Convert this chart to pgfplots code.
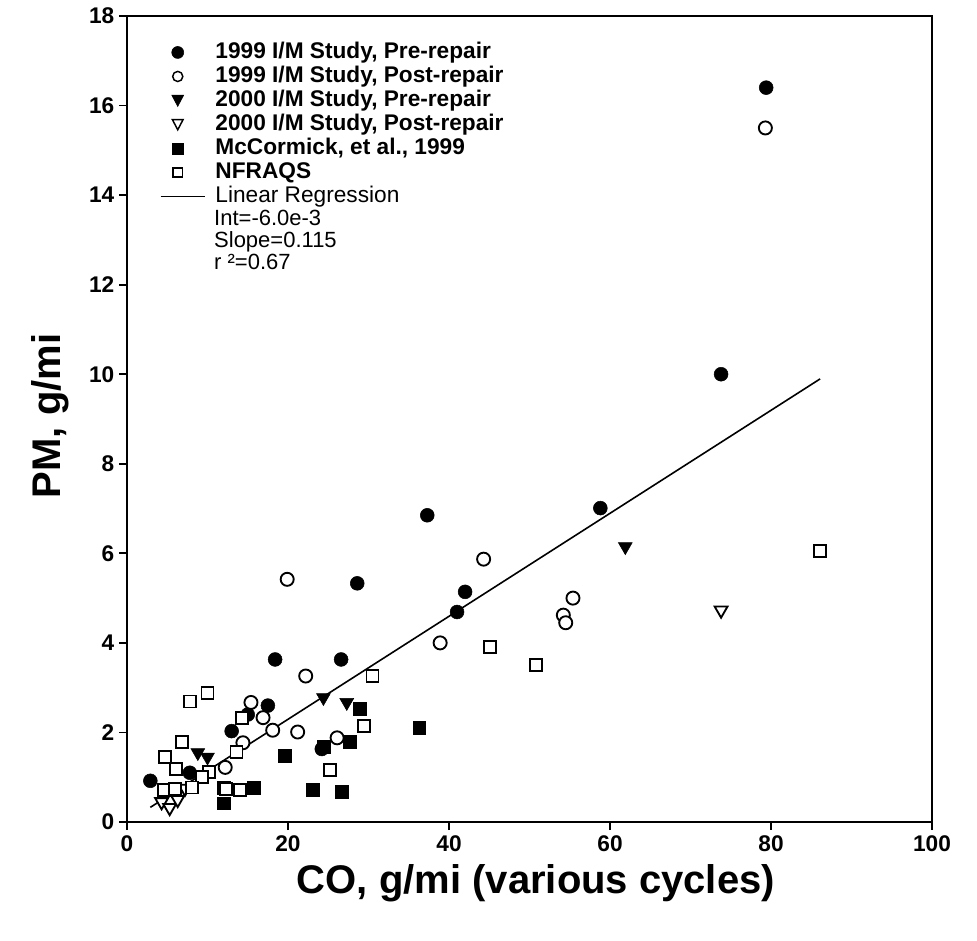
\documentclass[border=0pt]{standalone}
\usepackage{fontspec}
\setmainfont{Liberation Sans}
\usepackage{pgfplots}
\pgfplotsset{compat=1.18}
\begin{document}
\begin{tikzpicture}
\useasboundingbox (-95.25pt,-88.5pt) rectangle (637.5pt,616.5pt);
\begin{axis}[
  scale only axis, width=603.75pt, height=604.5pt,
  xmin=0, xmax=100, ymin=0, ymax=18,
  xtick={0,20,...,100}, ytick={0,2,...,18},
  axis line style={line width=1.6pt},
  major tick style={line width=1.4pt, black},
  major tick length=6pt,
  tick align=outside, xtick pos=lower, ytick pos=left,
  minor tick num=0,
  /pgf/number format/assume math mode=true,
  ticklabel style={font=\fontsize{17}{20}\selectfont\bfseries},
  xticklabel style={yshift=-1pt},
  xlabel={CO, g/mi (various cycles)},
  ylabel={PM, g/mi},
  label style={font=\fontsize{30}{34}\selectfont\bfseries},
  xlabel style={at={(rel axis cs:0.508,-0.0893)}, anchor=base},
  ylabel style={at={(rel axis cs:-0.082,0.504)}, anchor=base},
  clip=false,
  legend style={at={(rel axis cs:0.041,0.968)}, anchor=north west, draw=none, fill=none,
    inner sep=0pt, outer sep=0pt,
    font=\fontsize{17}{20}\selectfont\bfseries, row sep=2pt,
    nodes={inner sep=0pt, text height=12.5pt, text depth=3.5pt},
    /tikz/every odd column/.append style={column sep=7.5pt}},
  legend cell align=left,
]
% data series
\addplot[only marks, mark=*, mark size=5.2pt, black, forget plot] coordinates {
(79.4,16.4)(73.8,10.0)(58.8,7.01)(37.3,6.85)(28.6,5.33)(42.0,5.14)(41.0,4.69)(18.4,3.63)(26.6,3.63)(17.5,2.6)(15.0,2.4)(13.0,2.03)(24.2,1.63)(7.8,1.1)(2.9,0.92)};
\addplot[only marks, mark=*, mark size=4.9pt, black, mark options={fill=white, line width=1.4pt}, forget plot] coordinates {
(79.3,15.5)(44.3,5.87)(19.9,5.42)(55.4,5.0)(54.2,4.62)(54.5,4.45)(38.9,4.0)(22.2,3.26)(15.4,2.67)(16.9,2.33)(18.1,2.05)(21.2,2.01)(26.1,1.88)(14.4,1.77)(12.2,1.22)};
\addplot[only marks, mark=triangle*, mark size=6pt, black, mark options={rotate=180}, forget plot] coordinates {
(61.9,6.15)(24.4,2.78)(27.3,2.67)(8.8,1.55)(10.0,1.45)(5.8,0.72)};
\addplot[only marks, mark=triangle*, mark size=5.6pt, black, mark options={rotate=180, fill=white, line width=1.4pt}, forget plot] coordinates {
(73.8,4.73)(4.3,0.45)(5.3,0.32)(6.3,0.5)(7.2,0.75)};
\addplot[only marks, mark=square*, mark size=4.8pt, black, forget plot] coordinates {
(36.3,2.1)(28.9,2.53)(27.7,1.79)(24.4,1.68)(19.6,1.48)(23.1,0.72)(26.7,0.67)(15.7,0.77)(12.0,0.77)(12.0,0.42)};
\addplot[only marks, mark=square*, mark size=4.5pt, black, mark options={fill=white, line width=1.4pt}, forget plot] coordinates {
(86.1,6.05)(45.1,3.91)(50.8,3.51)(30.5,3.27)(29.4,2.14)(25.2,1.16)(7.8,2.69)(10.0,2.88)(6.8,1.79)(14.3,2.32)(13.6,1.57)(10.2,1.12)(9.3,1.0)(14.0,0.72)(12.3,0.74)(4.7,1.45)(6.1,1.18)(4.6,0.72)(8.1,0.77)(6.0,0.73)};
\addplot[black, line width=1.2pt, forget plot] coordinates {(2.9,0.3275)(86.1,9.8955)};
% legend
\addlegendimage{legend image code/.code={\fill[black] (12.75pt,0pt) circle (4.5pt); \path (0pt,-5pt) (33pt,5pt);}}
\addlegendentry{1999 I/M Study, Pre-repair}
\addlegendimage{legend image code/.code={\draw[black, line width=1.1pt, fill=white] (12.75pt,0pt) circle (3.8pt); \path (0pt,-5pt) (33pt,5pt);}}
\addlegendentry{1999 I/M Study, Post-repair}
\addlegendimage{legend image code/.code={\fill[black] (8.25pt,4pt) -- (17.25pt,4pt) -- (12.75pt,-4.5pt) -- cycle; \path (0pt,-5pt) (33pt,5pt);}}
\addlegendentry{2000 I/M Study, Pre-repair}
\addlegendimage{legend image code/.code={\draw[black, line width=1.1pt, fill=white] (8.75pt,3.6pt) -- (16.75pt,3.6pt) -- (12.75pt,-4pt) -- cycle; \path (0pt,-5pt) (33pt,5pt);}}
\addlegendentry{2000 I/M Study, Post-repair}
\addlegendimage{legend image code/.code={\fill[black] (8.75pt,-4pt) rectangle (16.75pt,4pt); \path (0pt,-5pt) (33pt,5pt);}}
\addlegendentry{McCormick, et al., 1999}
\addlegendimage{legend image code/.code={\draw[black, line width=1.1pt] (9.25pt,-3.5pt) rectangle (16.25pt,3.5pt); \path (0pt,-5pt) (33pt,5pt);}}
\addlegendentry{NFRAQS}
\addlegendimage{legend image code/.code={\draw[black, line width=1.1pt] (0pt,0pt) -- (33pt,0pt); \path (0pt,-5pt) (33pt,5pt);}}
\addlegendentry{\mdseries Linear Regression}
% regression statistics
\node[anchor=base west, inner sep=0pt, font=\fontsize{16.5}{19}\selectfont] at (rel axis cs:0.108,0.7395) {Int=-6.0e-3};
\node[anchor=base west, inner sep=0pt, font=\fontsize{16.5}{19}\selectfont] at (rel axis cs:0.108,0.7122) {Slope=0.115};
\node[anchor=base west, inner sep=0pt, font=\fontsize{16.5}{19}\selectfont] at (rel axis cs:0.108,0.6849) {r ²=0.67};
\end{axis}
\end{tikzpicture}
\end{document}
